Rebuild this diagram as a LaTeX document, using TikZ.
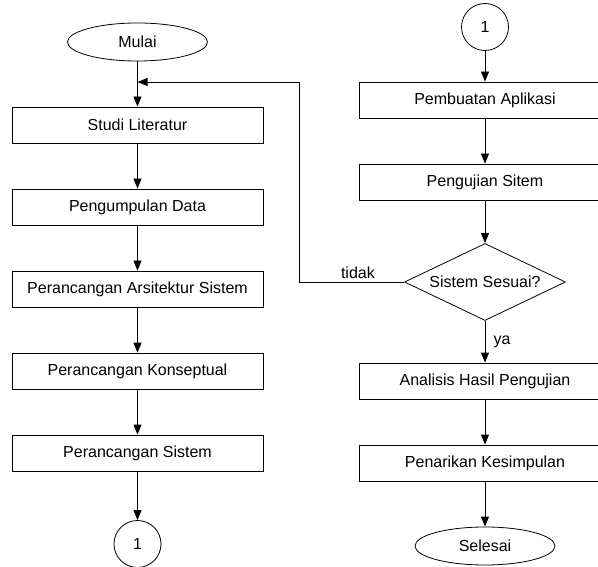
\documentclass[tikz,border=0pt]{standalone}
\usepackage{fontspec}
\setmainfont{Liberation Sans}
\usetikzlibrary{shapes.geometric, positioning, arrows.meta}

\begin{document}
\begin{tikzpicture}[x=1pt, y=1pt, node distance={82pt}, line width=0.8pt,
	>={Triangle[length=10pt, width=8pt]}, font=\fontsize{16}{19}\selectfont,
	main/.style = {draw, rectangle, minimum width=251pt, minimum height=36pt},
	term/.style = {draw, ellipse, minimum width=140pt, minimum height=38pt, inner sep=0pt},
	conn/.style = {draw, circle, minimum size=47pt, inner sep=0pt},
	cond/.style = {draw, diamond, aspect=2.1, minimum width=161pt, minimum height=77pt, inner sep=1pt}]
	\clip (0,0) rectangle (598,-567);
	% kolom kiri
	\node[term] (1) at (137.5,-42) {Mulai};
	\coordinate[below of=1, node distance=40pt] (b);
	\node[main] [below of=1, node distance=83pt] (2) {Studi Literatur};
	\draw[->] (1) -- (2);
	\node[main] [below of=2] (3) {Pengumpulan Data};
	\draw[->] (2) -- (3);
	\node[main] [below of=3] (4) {Perancangan Arsitektur Sistem};
	\draw[->] (3) -- (4);
	\node[main] [below of=4] (5) {Perancangan Konseptual};
	\draw[->] (4) -- (5);
	\node[main] [below of=5] (6) {Perancangan Sistem};
	\draw[->] (5) -- (6);
	\node[conn] [below of=6, node distance=91pt] (7) {1};
	\draw[->] (6) -- (7);
	% kolom kanan
	\node[conn] (8) at (485,-27) {1};
	\node[main] [below of=8, node distance=73pt] (9) {Pembuatan Aplikasi};
	\draw[->] (8) -- (9);
	\node[main] [below of=9] (10) {Pengujian Sitem};
	\draw[->] (9) -- (10);
	\node[cond] [below of=10, node distance=100pt] (11) {Sistem Sesuai?};
	\draw[->] (10) -- (11);
	\draw[->] (11.west) -- node[above, pos=0.44] {tidak} ++(-105,0) |- (b);
	\node[main] [below of=11, node distance=99pt] (12) {Analisis Hasil Pengujian};
	\draw[->] (11) -- node[right=5pt] {ya} (12);
	\node[main] [below of=12] (13) {Penarikan Kesimpulan};
	\draw[->] (12) -- (13);
	\node[term] [below of=13, node distance=83pt] (14) {Selesai};
	\draw[->] (13) -- (14);
\end{tikzpicture}
\end{document}
